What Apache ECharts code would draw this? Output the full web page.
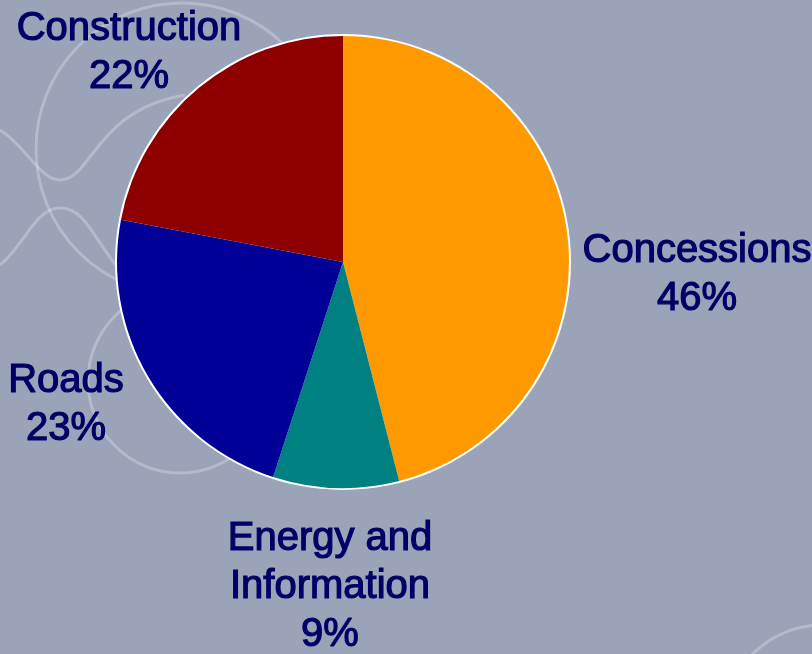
<!DOCTYPE html>
<html>
<head>
<meta charset="utf-8">
<script src="https://cdn.jsdelivr.net/npm/echarts@6/dist/echarts.min.js"></script>
<style>
  html, body { margin: 0; padding: 0; background: #9aa3b8; }
  #main { width: 812px; height: 654px; }
</style>
</head>
<body>
<div id="main"></div>
<script>
// segment data, clockwise from 12 o'clock
var segNames = ['Concessions', 'Energy and\nInformation', 'Roads', 'Construction'];
var segValues = [46, 9, 23, 22];
var segColors = ['#ff9900', '#008080', '#000096', '#8e0000'];

// label anchor points (layout only)
var labelPos = [[697, 275], [330, 587], [66, 405], [129, 53]];

var chart = echarts.init(document.getElementById('main'));

var deco = 'rgba(255,255,255,0.25)';
function ring(cx, cy, r) {
	return { type: 'circle', silent: true, z: -10, shape: { cx: cx, cy: cy, r: r },
		style: { fill: 'none', stroke: deco, lineWidth: 3 } };
}
function curve(p) {
	return { type: 'bezierCurve', silent: true, z: -10,
		shape: { x1: p[0], y1: p[1], cpx1: p[2], cpy1: p[3], cpx2: p[4], cpy2: p[5], x2: p[6], y2: p[7] },
		style: { fill: 'none', stroke: deco, lineWidth: 3 } };
}

var option = {
	backgroundColor: '#9aa3b8',
	animation: false,
	graphic: [
		ring(182, 149, 146),
		ring(180, 381, 92),
		ring(822, 722, 97),
		curve([0, 130, 25, 145, 40, 180, 60, 180]),
		curve([60, 180, 92, 180, 95, 110, 185, 95]),
		curve([0, 265, 25, 245, 35, 208, 60, 208]),
		curve([60, 208, 90, 208, 95, 250, 135, 285])
	],
	series: [
		{
			// white outline behind the pie
			type: 'pie',
			silent: true,
			center: [343, 262],
			radius: 228,
			z: 1,
			label: { show: false },
			labelLine: { show: false },
			itemStyle: { color: '#ffffff' },
			data: [1]
		},
		{
			type: 'pie',
			center: [343, 262],
			radius: 226,
			startAngle: 90,
			clockwise: true,
			z: 2,
			itemStyle: { borderWidth: 0 },
			labelLine: { show: false },
			label: {
				show: true,
				position: 'outside',
				overflow: 'none',
				edgeDistance: 0,
				formatter: function (p) { return p.name + '\n' + p.value + '%'; },
				fontFamily: 'Liberation Sans',
				fontSize: 40,
				lineHeight: 48,
				color: '#000066',
				textBorderColor: '#000066',
				textBorderWidth: 1.2,
				align: 'center',
				textShadowColor: '#cfcfcf',
				textShadowOffsetX: 2,
				textShadowOffsetY: 2,
				textShadowBlur: 0
			},
			labelLayout: function (params) {
				var pos = labelPos[params.dataIndex];
				return { x: pos[0], y: pos[1], align: 'center', verticalAlign: 'middle' };
			},
			data: segNames.map(function (n, i) {
				return { name: n, value: segValues[i], itemStyle: { color: segColors[i] } };
			})
		}
	]
};
chart.setOption(option);
</script>
</body>
</html>
